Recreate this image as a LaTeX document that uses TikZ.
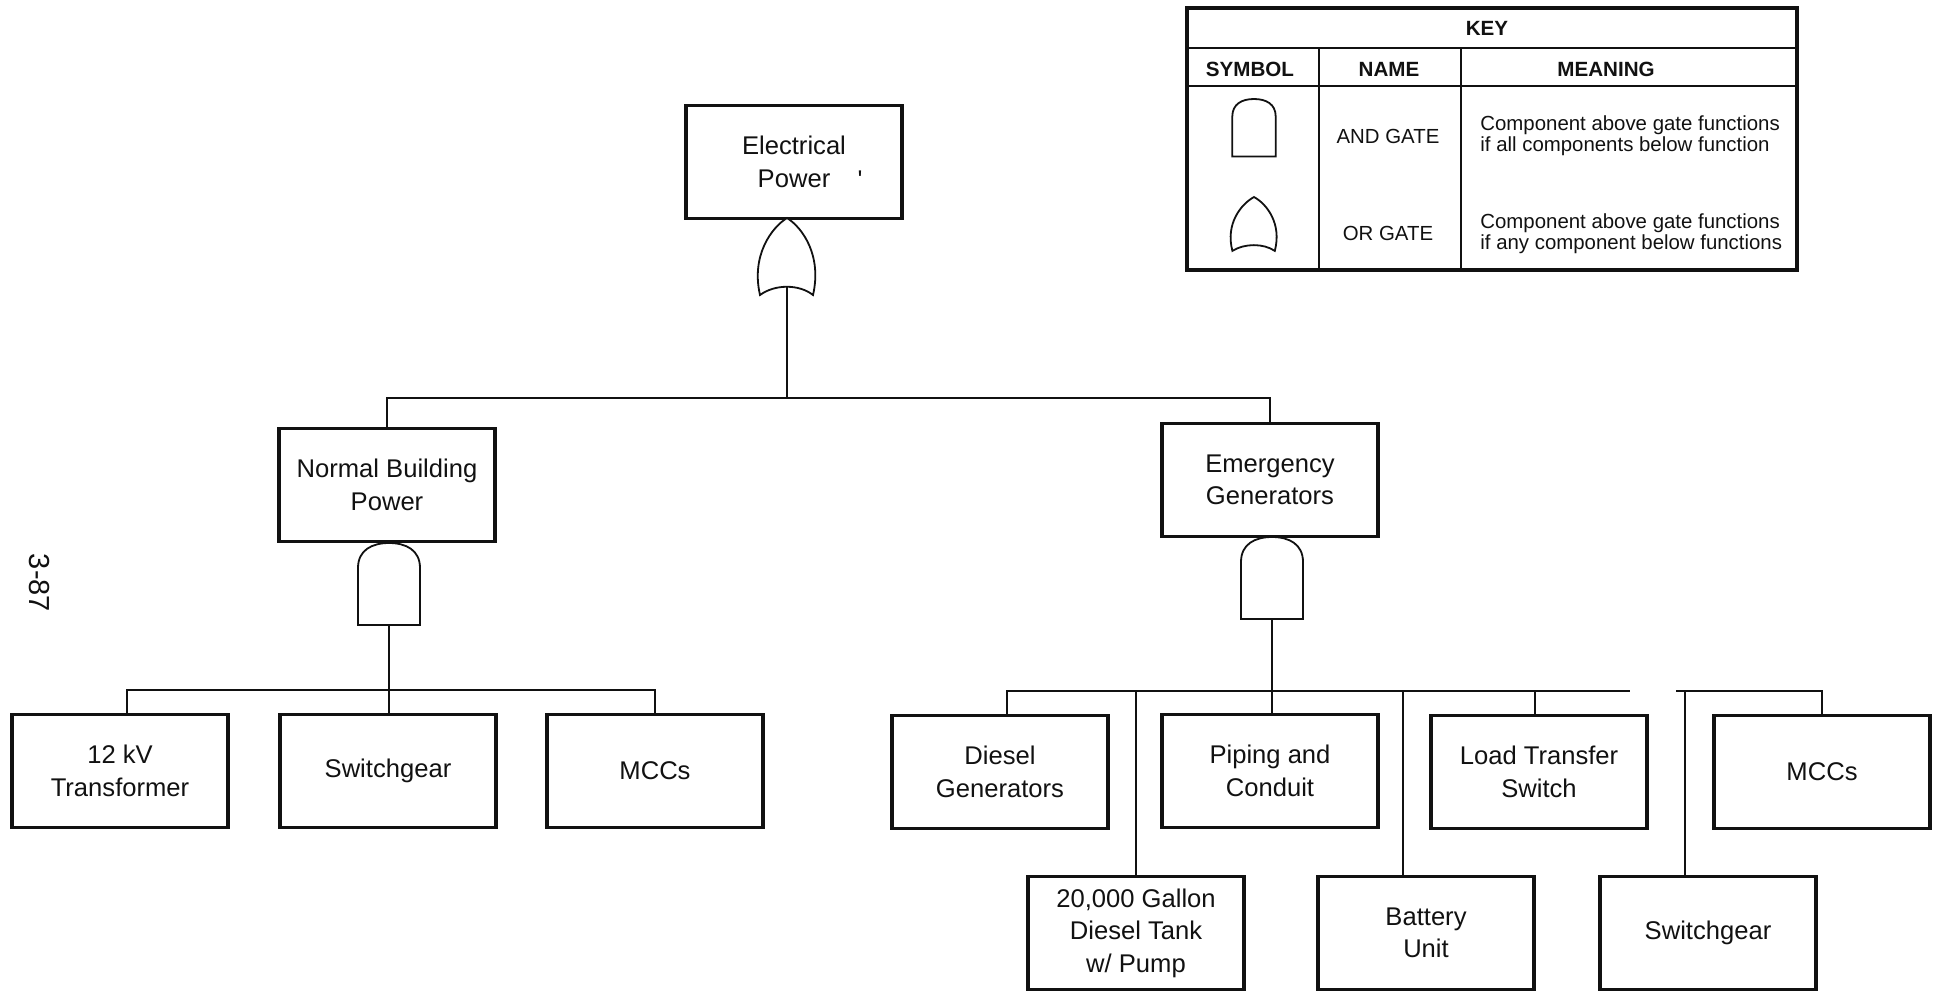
\documentclass[tikz,border=0pt]{standalone}
\usepackage{fontspec}
\setmainfont{Liberation Sans}
\usetikzlibrary{positioning, calc}
\definecolor{ink}{HTML}{111111}
\tikzset{
  block/.style={rectangle, draw=ink, line width=1.75pt, minimum width=108pt, minimum height=56.5pt,
                inner sep=0pt, align=center, text=ink, font=\fontsize{12.8}{16.25}\selectfont},
  wire/.style={draw=ink, line width=0.6pt},
  gateline/.style={draw=ink, line width=0.9pt, fill=white},
  keyline/.style={draw=ink, line width=1.3pt},
  keyhd/.style={text=ink, inner sep=0pt, font=\fontsize{10.3}{11}\selectfont\bfseries},
  keytxt/.style={text=ink, inner sep=0pt, align=left, font=\fontsize{10.2}{10.6}\selectfont},
  pics/andgate/.style={code={
    \draw[gateline] (-31,82) -- (-31,25) .. controls (-31,7) and (-17,0) .. (0,0)
      .. controls (17,0) and (31,7) .. (31,25) -- (31,82) -- cycle;
    \coordinate (-out) at (0,82);
  }},
  pics/orgate/.style={code={
    \draw[gateline] (0,0) .. controls (16,10) and (35,38) .. (26,77)
      .. controls (12,66) and (-12,66) .. (-27,77)
      .. controls (-36,38) and (-16,10) .. (0,0) -- cycle;
    \coordinate (-out) at (0,69);
  }}
}

\begin{document}
\begin{tikzpicture}[x=0.5pt, y=-0.5pt]
  \useasboundingbox (0,0) rectangle (1944,992);

  % top event
  \node[block] (epow) at (794,162) {Electrical\\Power};
  \node[text=ink, inner sep=0pt, font=\fontsize{12.8}{14}\selectfont] (tick) at (860,180) {\textquotesingle};
  \pic (gor) at (787,218) {orgate};

  % second level
  \node[block] (nbp) at (387,485) {Normal Building\\Power};
  \node[block] (egen) at (1270,480) {Emergency\\Generators};
  \pic (gandL) at (389,543) {andgate};
  \pic (gandR) at (1272,537) {andgate};

  % normal building power branch
  \node[block] (xfmr) at (120,771) {12 kV\\Transformer};
  \node[block] (swgA) at (388,771) {Switchgear};
  \node[block] (mccA) at (655,771) {MCCs};

  % emergency branch
  \node[block] (dgen) at (1000,772) {Diesel\\Generators};
  \node[block] (pipe) at (1270,771) {Piping and\\Conduit};
  \node[block] (lts) at (1539,772) {Load Transfer\\Switch};
  \node[block] (mccB) at (1822,772) {MCCs};
  \node[block] (tank) at (1136,933) {20,000 Gallon\\Diesel Tank\\w/ Pump};
  \node[block] (batt) at (1426,933) {Battery\\Unit};
  \node[block] (swgB) at (1708,933) {Switchgear};

  % buses
  \coordinate (busT) at (787,398);
  \coordinate (busL) at (389,690);
  \coordinate (busR) at (1272,691);
  \coordinate (gapL) at (1630,691);
  \coordinate (gapR) at (1676,691);

  \draw[wire] (gor-out) -- (busT);
  \draw[wire] (nbp.north) |- (busT) -| (egen.north);

  \draw[wire] (gandL-out) -- (gandL-out |- swgA.north);
  \draw[wire] ([xshift=3.5pt]xfmr.north) |- (busL) -| (mccA.north);

  \draw[wire] (gandR-out) -- (gandR-out |- pipe.north);
  \draw[wire] ([xshift=3.5pt]dgen.north) |- (gapL);
  \draw[wire] (gapR) -| (mccB.north);
  \draw[wire] (tank.north) -- (tank.north |- busR);
  \draw[wire] ([xshift=-11.5pt]batt.north) -- ([xshift=-11.5pt]batt.north |- busR);
  \draw[wire] ([xshift=-2pt]lts.north) -- ([xshift=-2pt]lts.north |- busR);
  \draw[wire] ([xshift=-11.5pt]swgB.north) -- ([xshift=-11.5pt]swgB.north |- gapR);

  % page number
  \node[text=ink, rotate=-90, inner sep=0pt, font=\fontsize{14.5}{16}\selectfont] (pgno) at (39,583) {3-87};

  % key
  \draw[keyline, line width=1.6pt] (1187,8) rectangle (1797,270);
  \draw[keyline] (1187,48) -- (1797,48);
  \draw[keyline] (1187,86) -- (1797,86);
  \draw[keyline] (1319,48) -- (1319,270);
  \draw[keyline] (1461,48) -- (1461,270);
  \node[keyhd] (keyT) at (1487,28) {KEY};
  \node[keyhd] (keyS) at (1250,69) {SYMBOL};
  \node[keyhd] (keyN) at (1389,69) {NAME};
  \node[keyhd] (keyM) at (1606,69) {MEANING};
  \pic[scale=0.7] (keyand) at (1254,99) {andgate};
  \pic[xscale=0.8, yscale=0.7] (keyor) at (1254,197) {orgate};
  \node[keytxt] (andN) at (1388,136) {AND GATE};
  \node[keytxt] (orN) at (1388,233) {OR GATE};
  \node[keytxt, anchor=west] (andM) at (1480,136) {Component above gate functions\\if all components below function};
  \node[keytxt, anchor=west] (orM) at (1480,234) {Component above gate functions\\if any component below functions};
\end{tikzpicture}
\end{document}
